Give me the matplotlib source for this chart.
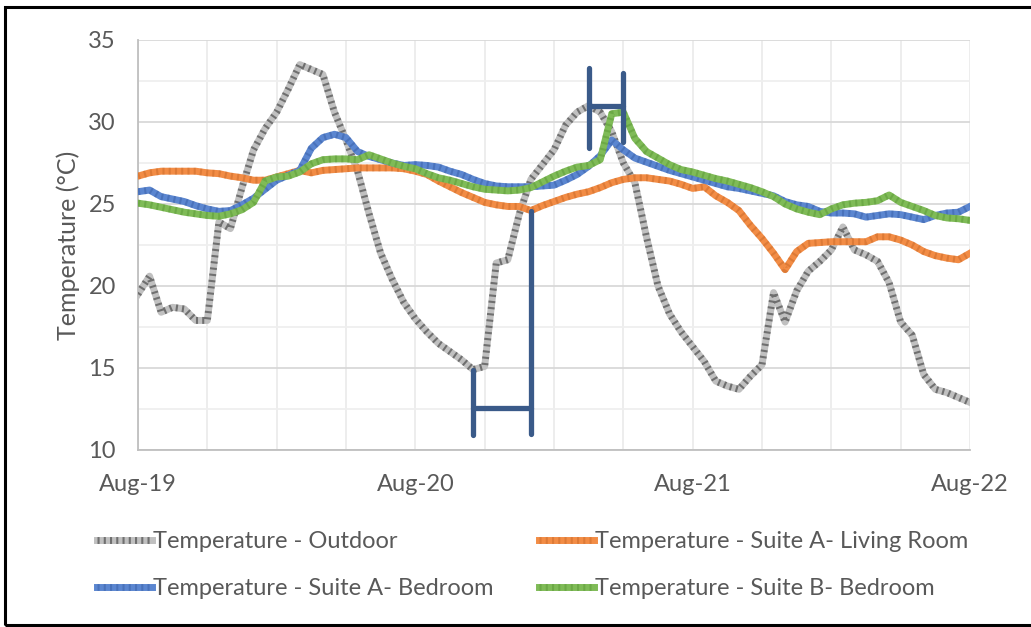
import numpy as np
import matplotlib.pyplot as plt
from matplotlib.patches import Rectangle

# hourly readings, Aug-19 00:00 to Aug-22 00:00
hours = np.arange(73)
outdoor = [19.5, 20.6, 18.4, 18.7, 18.6, 17.9, 17.9, 23.9, 23.5, 26.0, 28.3, 29.6,
           30.6, 32.0, 33.5, 33.2, 32.9, 30.6, 28.9, 27.0, 24.4, 22.0, 20.4, 19.0,
           18.0, 17.2, 16.5, 16.0, 15.5, 14.9, 15.1, 21.4, 21.6, 24.4, 26.5, 27.4,
           28.3, 29.8, 30.6, 31.0, 30.6, 29.4, 27.5, 26.3, 23.0, 20.0, 18.3, 17.2,
           16.3, 15.4, 14.2, 13.9, 13.7, 14.5, 15.2, 19.6, 17.8, 19.7, 20.9, 21.5,
           22.2, 23.6, 22.2, 21.9, 21.5, 20.2, 17.8, 17.0, 14.6, 13.7, 13.5, 13.2,
           12.9]
living_a = [26.7, 26.9, 27.0, 27.0, 27.0, 27.0, 26.9, 26.85, 26.7, 26.6, 26.45, 26.45,
            26.65, 26.85, 27.05, 26.9, 27.05, 27.1, 27.15, 27.2, 27.2, 27.2, 27.2, 27.15,
            27.0, 26.8, 26.4, 26.05, 25.7, 25.4, 25.1, 24.95, 24.85, 24.85, 24.6, 24.9,
            25.15, 25.4, 25.6, 25.75, 26.0, 26.3, 26.5, 26.6, 26.6, 26.5, 26.4, 26.2,
            25.95, 26.05, 25.5, 25.1, 24.6, 23.7, 22.9, 22.0, 21.0, 22.1, 22.6, 22.65,
            22.7, 22.7, 22.7, 22.7, 23.0, 23.0, 22.8, 22.5, 22.1, 21.85, 21.7, 21.6,
            22.0]
bedroom_a = [25.75, 25.85, 25.45, 25.3, 25.15, 24.9, 24.7, 24.55, 24.6, 24.95, 25.35, 25.9,
             26.45, 26.75, 27.05, 28.4, 29.05, 29.25, 29.05, 28.2, 27.9, 27.7, 27.5, 27.35,
             27.4, 27.35, 27.25, 27.0, 26.8, 26.5, 26.25, 26.1, 26.05, 26.05, 26.05, 26.1,
             26.15, 26.45, 26.8, 27.3, 27.95, 28.9, 28.3, 27.8, 27.55, 27.3, 27.05, 26.85,
             26.65, 26.45, 26.25, 26.05, 25.95, 25.8, 25.65, 25.5, 25.15, 24.95, 24.85, 24.55,
             24.45, 24.45, 24.4, 24.2, 24.3, 24.4, 24.35, 24.2, 24.05, 24.3, 24.45, 24.5,
             24.85]
bedroom_b = [25.05, 24.95, 24.8, 24.65, 24.5, 24.4, 24.3, 24.25, 24.4, 24.65, 25.1, 26.4,
             26.65, 26.7, 26.95, 27.45, 27.7, 27.75, 27.75, 27.7, 28.0, 27.75, 27.5, 27.3,
             27.15, 26.85, 26.6, 26.45, 26.25, 26.05, 25.9, 25.85, 25.8, 25.85, 26.0, 26.35,
             26.7, 27.0, 27.25, 27.35, 27.7, 30.5, 30.6, 29.0, 28.2, 27.8, 27.4, 27.1,
             26.95, 26.75, 26.55, 26.4, 26.2, 26.0, 25.75, 25.45, 25.0, 24.7, 24.5, 24.35,
             24.7, 24.95, 25.05, 25.1, 25.2, 25.55, 25.1, 24.85, 24.6, 24.3, 24.15, 24.1,
             24.0]
tick_hours = [0, 24, 48, 72]
tick_labels = ['Aug-19', 'Aug-20', 'Aug-21', 'Aug-22']
series_names = ['Temperature - Outdoor', 'Temperature - Suite A- Living Room',
                'Temperature - Suite A- Bedroom', 'Temperature - Suite B- Bedroom']

plt.rcParams['font.family'] = ['Lato', 'DejaVu Sans']
text_col = '#595959'

fig = plt.figure(figsize=(10.31, 6.27), dpi=100)
ax = fig.add_axes([138 / 1031, 1 - 450 / 627, 832 / 1031, 410 / 627])

# base colour + darker texture colour, like Excel's patterned line
styles = [('#c0c0c0', '#202020', 0.5), ('#f28c45', '#b85a1a', 0.35),
          ('#5b86d0', '#2a4f96', 0.35), ('#7fbb57', '#4a8a28', 0.35)]
handles = []
for data, (base, dark, a) in zip([outdoor, living_a, bedroom_a, bedroom_b], styles):
    l1, = ax.plot(hours, data, color=base, lw=5, solid_joinstyle='round', zorder=3)
    l2, = ax.plot(hours, data, color=dark, lw=5, alpha=a,
                  linestyle=(0, (0.3, 0.6)), zorder=3)
    handles.append((l1, l2))

# time-lag brackets
lag_col = '#3a5a89'
t_low = int(np.argmin(outdoor[24:48])) + 24
t_low_in = int(np.argmin(living_a[24:48])) + 24
t_high = int(np.argmax(outdoor[24:48])) + 24
t_high_in = int(np.argmax(bedroom_b[24:48])) + 24
kw = dict(color=lag_col, lw=3.8, solid_capstyle='round', zorder=5)
ax.plot([t_low, t_low], [outdoor[t_low], 10.9], **kw)
ax.plot([t_low_in, t_low_in], [living_a[t_low_in], 11.0], **kw)
ax.plot([t_low, t_low_in], [12.55, 12.55], **kw)
ax.plot([t_high, t_high], [33.3, 28.4], **kw)
ax.plot([t_high_in, t_high_in], [33.0, 28.8], **kw)
ax.plot([t_high, t_high_in], [outdoor[t_high], outdoor[t_high]], **kw)

ax.set_xlim(0, 72)
ax.set_ylim(10, 35)
ax.set_xticks(tick_hours)
ax.set_xticklabels(tick_labels)
ax.set_xticks(np.arange(0, 73, 6), minor=True)
ax.set_yticks(np.arange(10, 36, 5))
ax.set_yticks(np.arange(10, 35, 2.5), minor=True)
ax.grid(True, which='major', axis='y', color='#d9d9d9', lw=1.3)
ax.grid(True, which='minor', axis='y', color='#efefef', lw=1.3)
ax.grid(True, which='both', axis='x', color='#ececec', lw=1.3)
ax.set_axisbelow(True)
ax.tick_params(which='both', length=0, colors=text_col, labelsize=17)
ax.tick_params(axis='y', pad=16)
ax.tick_params(axis='x', pad=17)
for s in ['top', 'right']:
    ax.spines[s].set_visible(False)
for s in ['left', 'bottom']:
    ax.spines[s].set_color('#bfbfbf')
    ax.spines[s].set_linewidth(1.3)
ax.set_ylabel('Temperature (°C)', fontsize=18, color=text_col, labelpad=6)

# Excel fills the legend row by row; matplotlib column by column
order = [0, 2, 1, 3]
fig.legend([handles[i] for i in order], [series_names[i] for i in order],
           ncol=2, loc='upper left',
           bbox_to_anchor=(76 / 1031, 1 - 510 / 627), frameon=False,
           fontsize=17, labelcolor=text_col, handlelength=2.3, handletextpad=0.05,
           columnspacing=1.95, labelspacing=1.1)

# black frame round the chart
fig.patches.append(Rectangle((4.5 / 1031, 1 - 625 / 627), 1.2, (625 - 6.5) / 627,
                             transform=fig.transFigure, fill=False, ec='black',
                             lw=2.2, zorder=10))

fig.savefig('out.png', dpi=100)
